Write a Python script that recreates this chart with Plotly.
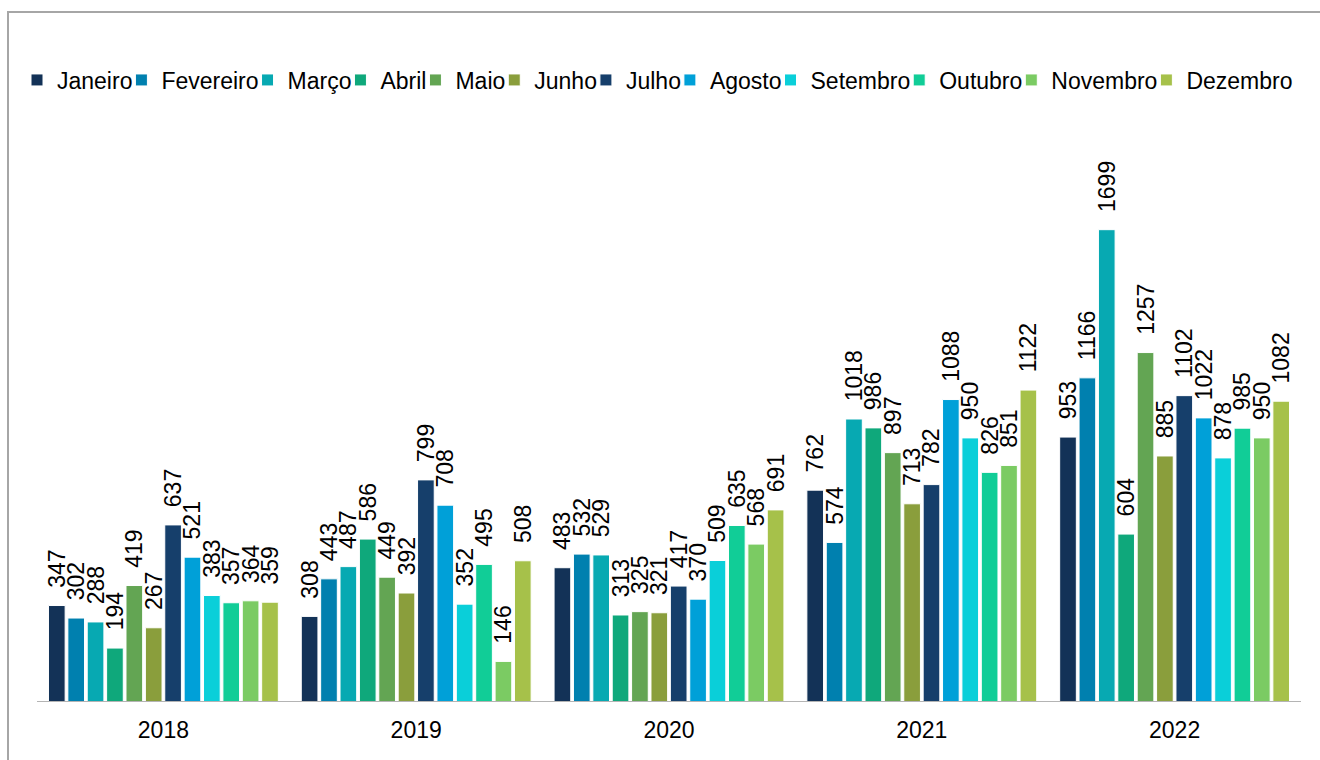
import plotly.graph_objects as go

# ---------------- data ----------------
years = ["2018", "2019", "2020", "2021", "2022"]
months = ["Janeiro", "Fevereiro", "Março", "Abril", "Maio", "Junho",
          "Julho", "Agosto", "Setembro", "Outubro", "Novembro", "Dezembro"]

janeiro   = [347, 308, 483, 762, 953]
fevereiro = [302, 443, 532, 574, 1166]
marco     = [288, 487, 529, 1018, 1699]
abril     = [194, 586, 313, 986, 604]
maio      = [419, 449, 325, 897, 1257]
junho     = [267, 392, 321, 713, 885]
julho     = [637, 799, 417, 782, 1102]
agosto    = [521, 708, 370, 1088, 1022]
setembro  = [383, 352, 509, 950, 878]
outubro   = [357, 495, 635, 826, 985]
novembro  = [364, 146, 568, 851, 950]
dezembro  = [359, 508, 691, 1122, 1082]

series = [janeiro, fevereiro, marco, abril, maio, junho,
          julho, agosto, setembro, outubro, novembro, dezembro]

colors = ["#133257", "#0080AF", "#07A9B2", "#0FA87B", "#63A553", "#8A9E3C",
          "#163F6B", "#00A0D8", "#0ACFD9", "#11CD97", "#7BCB63", "#A6C14A"]

# ---------------- layout constants ----------------
W, H = 1320, 760
FONT = "Liberation Sans, Arial, sans-serif"
FS = 23
ML, MR, MT, MB = 17, 19, 110, 58
plot_w = W - ML - MR
plot_h = H - MT - MB
bars_left_px = 37  # where the category area (and baseline) starts
slot_px = (W - MR - bars_left_px) / len(years)
xpad = (bars_left_px - ML) / slot_px

# approximate Arial advance widths (per 1000 em) for legend spacing
arial_w = {"J": 500, "a": 556, "n": 556, "e": 556, "i": 222, "r": 333, "o": 556,
           "F": 611, "v": 500, "M": 833, "ç": 500, "A": 667, "b": 556, "l": 222,
           "h": 556, "u": 556, "g": 556, "s": 500, "t": 278, "S": 667, "m": 833,
           "O": 778, "N": 722, "D": 722, "z": 500, "c": 500}


def text_width(s, size):
    return sum(arial_w.get(ch, 556) for ch in s) * size / 1000.0


fig = go.Figure()
n = len(months)
for i, (name, vals, col) in enumerate(zip(months, series, colors)):
    tw = text_width(name, FS)
    lw = tw + 2 if i == n - 1 else tw - 16
    fig.add_trace(go.Bar(
        name=name,
        x=years,
        y=vals,
        marker=dict(color=col, line=dict(color="white", width=1)),
        text=vals,
        texttemplate="\u200a\u00a0\u00a0%{y}",
        textposition="outside",
        textangle=-90,
        constraintext="none",
        cliponaxis=False,
        textfont=dict(family=FONT, size=FS, color="#000000"),
        legendwidth=max(lw, 1),
        hoverinfo="x+y+name",
    ))

fig.update_layout(
    width=W, height=H,
    barmode="group",
    bargap=0.08,
    bargroupgap=0.14,
    paper_bgcolor="white",
    plot_bgcolor="white",
    margin=dict(l=ML, r=MR, t=MT, b=MB, autoexpand=False),
    font=dict(family=FONT, size=FS, color="#000000"),
    showlegend=True,
    legend=dict(
        orientation="h",
        x=0, xanchor="left",
        y=1 + (MT - 80) / plot_h, yanchor="middle",
        font=dict(family=FONT, size=FS, color="#000000"),
        bgcolor="rgba(0,0,0,0)",
        traceorder="normal",
    ),
    xaxis=dict(
        type="category",
        range=[-0.5 - xpad, len(years) - 0.5],
        showgrid=False, zeroline=False, showline=False,
        ticks="", ticklabelstandoff=12,
        tickfont=dict(family=FONT, size=FS, color="#000000"),
    ),
    yaxis=dict(
        range=[0, plot_h / 0.278],
        visible=False, showgrid=False, zeroline=False,
    ),
    shapes=[
        # baseline under the bars
        dict(type="line", xref="x", yref="y", x0=-0.5, x1=len(years) - 0.5,
             y0=0, y1=0, line=dict(color="#B4B4B4", width=2), layer="above"),
        # outer chart frame (left and top edges visible)
        dict(type="rect", xref="paper", yref="paper",
             x0=(8 - ML) / plot_w, x1=(W + 20 - ML) / plot_w,
             y0=-(H + 20 - (H - MB)) / plot_h, y1=((H - MB) - 12) / plot_h,
             line=dict(color="#A6A6A6", width=2), fillcolor="rgba(0,0,0,0)",
             layer="below"),
    ],
)

fig.write_html(
    "out.html",
    config={"displayModeBar": False},
    post_script="document.body.style.margin='0';document.body.style.overflow='hidden';",
)
